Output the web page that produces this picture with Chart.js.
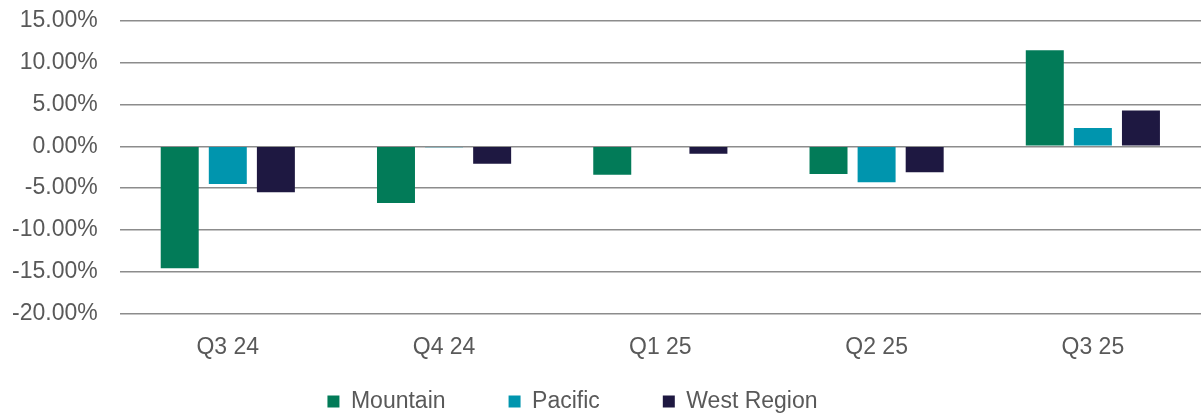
<!DOCTYPE html>
<html>
<head>
<meta charset="utf-8">
<script src="https://cdn.jsdelivr.net/npm/chart.js@4/dist/chart.umd.min.js"></script>
<style>
  html, body { margin: 0; padding: 0; background: #fff; }
  #wrap { width: 1201px; height: 418px; }
</style>
</head>
<body>
<div id="wrap"><canvas id="regionChart" width="1201" height="418"></canvas></div>
<script>
const quarters = ['Q3 24', 'Q4 24', 'Q1 25', 'Q2 25', 'Q3 25'];
const mountain = [-14.6, -6.8, -3.4, -3.3, 11.5];
const pacific = [-4.5, -0.1, 0.1, -4.3, 2.2];
const westRegion = [-5.5, -2.1, -0.9, -3.1, 4.3];
const yTicks = [-20, -15, -10, -5, 0, 5, 10, 15];

const textColor = '#595959';
const fontFamily = '"Liberation Sans", Arial, sans-serif';
const fontSize = 23;

function makeChart() {
  const ctx = document.getElementById('regionChart').getContext('2d');

  new Chart(ctx, {
    type: 'bar',
    data: {
      labels: quarters,
      datasets: [
        { label: 'Mountain', data: mountain, backgroundColor: '#027b58' },
        { label: 'Pacific', data: pacific, backgroundColor: '#0095ae' },
        { label: 'West Region', data: westRegion, backgroundColor: '#1e1841' }
      ]
    },
    options: {
      responsive: false,
      animation: false,
      categoryPercentage: 0.667,
      barPercentage: 0.79,
      layout: { padding: { left: -10, right: 0, top: 21, bottom: -5 } },
      plugins: {
        tooltip: { enabled: false },
        legend: {
          position: 'bottom',
          labels: {
            color: textColor,
            font: { family: fontFamily, size: fontSize },
            boxWidth: 12,
            boxHeight: 12,
            padding: 17,
            // wider gaps between legend entries, without growing the legend's height
            generateLabels: chart => {
              const items = Chart.defaults.plugins.legend.labels.generateLabels(chart);
              items.forEach(item => { item.text += '\u2003\u2003'; });
              return items;
            }
          }
        }
      },
      scales: {
        x: {
          grid: { display: false },
          border: { display: false },
          ticks: {
            color: textColor,
            font: { family: fontFamily, size: fontSize },
            padding: 12
          }
        },
        y: {
          min: -20,
          max: 15,
          afterBuildTicks: axis => {
            axis.ticks = yTicks.map(v => ({ value: v }));
          },
          // let the top label hang over the padding instead of pushing the plot down
          afterFit: axis => {
            axis.paddingTop = 0;
            axis.paddingBottom = 0;
          },
          grid: { color: '#8c8c8c', lineWidth: 1.5, drawTicks: false },
          border: { display: false },
          ticks: {
            color: textColor,
            font: { family: fontFamily, size: fontSize, lineHeight: 1 },
            padding: 22,
            callback: v => v.toFixed(2) + '%'
          }
        }
      }
    }
  });
}

document.addEventListener('DOMContentLoaded', () => {
  makeChart();
});
</script>
</body>
</html>
